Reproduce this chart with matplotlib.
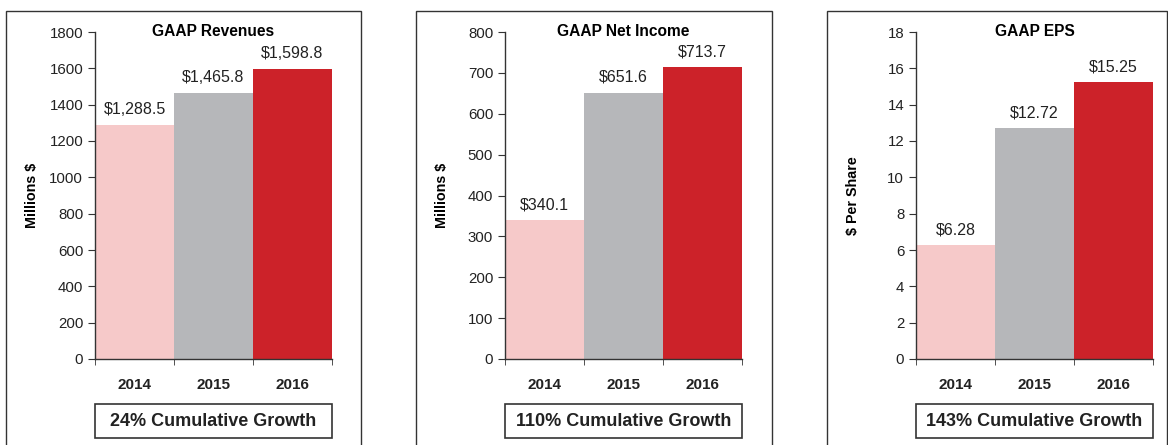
import matplotlib.pyplot as plt
from matplotlib.patches import Rectangle

plt.rcParams['font.family'] = ['Liberation Sans', 'DejaVu Sans']

years = ['2014', '2015', '2016']
revenues = [1288.5, 1465.8, 1598.8]
net_income = [340.1, 651.6, 713.7]
eps = [6.28, 12.72, 15.25]

titles = ['GAAP Revenues', 'GAAP Net Income', 'GAAP EPS']
ylabels = ['Millions $', 'Millions $', '$ Per Share']
value_labels = [['$1,288.5', '$1,465.8', '$1,598.8'],
                ['$340.1', '$651.6', '$713.7'],
                ['$6.28', '$12.72', '$15.25']]
growth = ['24% Cumulative Growth', '110% Cumulative Growth', '143% Cumulative Growth']
ylims = [(0, 1800, 200), (0, 800, 100), (0, 18, 2)]
series = [revenues, net_income, eps]

colors = ['#F6C9C9', '#B6B7BA', '#CC2229']
dark = '#333333'

W, H = 1168, 445
fig = plt.figure(figsize=(W / 100, H / 100), dpi=100)

ax_left = [95, 505, 916]
frame_x = [(6, 361), (416, 772), (827, 1167)]

for i in range(3):
    # outer panel frame
    fx0, fx1 = frame_x[i]
    fig.patches.append(Rectangle((fx0 / W, -0.05), (fx1 - fx0) / W, (H - 11) / H + 0.05,
                                 transform=fig.transFigure, fill=False,
                                 edgecolor=dark, linewidth=1.0))

    ax = fig.add_axes([ax_left[i] / W, (H - 359) / H, 237 / W, 327 / H])
    ax.bar(range(3), series[i], width=1.0, color=colors)
    lo, hi, step = ylims[i]
    ax.set_ylim(lo, hi)
    ax.set_yticks([lo + step * k for k in range(int((hi - lo) / step) + 1)])
    ax.set_xlim(-0.5, 2.5)
    ax.set_xticks(range(3))
    ax.set_xticklabels(years, fontweight='bold', fontsize=11)
    ax.set_xticks([-0.5, 0.5, 1.5, 2.5], minor=True)
    ax.tick_params(axis='x', which='major', length=0, pad=14, colors='#222222')
    ax.tick_params(axis='x', which='minor', length=4, direction='out', color=dark)
    ax.tick_params(axis='y', length=5, direction='out', labelsize=10.8, colors='#222222')
    ax.tick_params(axis='y', color=dark)
    for s in ['top', 'right']:
        ax.spines[s].set_visible(False)
    for s in ['left', 'bottom']:
        ax.spines[s].set_color(dark)
        ax.spines[s].set_linewidth(1.0)

    ax.set_ylabel(ylabels[i], fontweight='bold', fontsize=10.3)
    ax.yaxis.set_label_coords(-0.235, 0.5)

    ax.text(0.5, 1.0, titles[i], transform=ax.transAxes, ha='center', va='center',
            fontweight='bold', fontsize=11.2)

    for x, v, lab in zip(range(3), series[i], value_labels[i]):
        ax.annotate(lab, (x, v), xytext=(0, 11), textcoords='offset points',
                    ha='center', va='center', fontsize=11.5, color='#222222')

    # growth box
    fig.patches.append(Rectangle((ax_left[i] / W, (H - 438) / H), 237 / W, 34 / H,
                                 transform=fig.transFigure, fill=False,
                                 edgecolor=dark, linewidth=1.2))
    fig.text((ax_left[i] + 118.5) / W, (H - 421) / H, growth[i], ha='center', va='center',
             fontweight='bold', fontsize=13, color='#222222')

fig.savefig('out.png', dpi=100)
